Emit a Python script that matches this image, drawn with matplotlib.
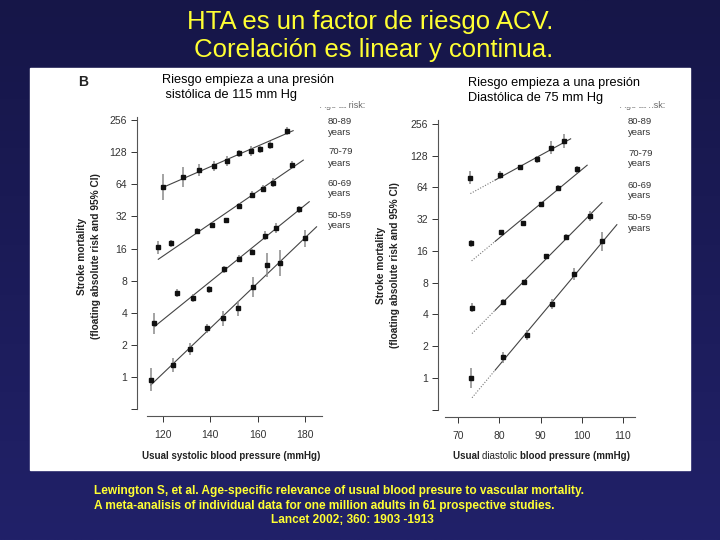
import numpy as np
import matplotlib
matplotlib.use('Agg')
import matplotlib.pyplot as plt
from matplotlib.patches import Rectangle

plt.rcParams['font.family'] = ['Liberation Sans', 'DejaVu Sans']

# --- datos (Lewington 2002, panel B) ---
age_groups = ['80-89', '70-79', '60-69', '50-59']

# sistolica
sys_x = [
    [120, 128.6, 135.3, 141.7, 146.9, 152.3, 157.3, 161.1, 165.4, 172.2],
    [118, 123.4, 134.2, 140.6, 146.5, 152.3, 157.4, 162.4, 166.5, 174.7],
    [116.3, 125.7, 132.8, 139.3, 145.8, 152.2, 157.7, 163.1, 167.9, 177.3],
    [114.8, 124.4, 131.5, 138.6, 145.2, 151.8, 158.0, 164.0, 169.3, 180.0],
]
sys_risk = [
    [60.6, 75, 87, 95, 106, 125, 131, 136, 149, 203],
    [16.4, 17.9, 23.4, 26.5, 29.6, 40.3, 51.4, 58.5, 66.6, 98],
    [3.18, 6.16, 5.53, 6.62, 10.2, 12.9, 14.9, 21, 25.1, 37.3],
    [0.94, 1.29, 1.82, 2.85, 3.55, 4.4, 7.0, 11.2, 11.8, 20],
]
# semi-ancho del IC en log2
sys_ci = [
    [0.41, 0.31, 0.19, 0.16, 0.15, 0.12, 0.15, 0.12, 0.12, 0.12],
    [0.19, 0.12, 0.10, 0.10, 0.08, 0.10, 0.10, 0.10, 0.15, 0.12],
    [0.33, 0.12, 0.12, 0.12, 0.12, 0.12, 0.10, 0.14, 0.16, 0.12],
    [0.36, 0.21, 0.19, 0.15, 0.23, 0.23, 0.31, 0.37, 0.41, 0.26],
]
sys_fit_x = [(120, 175), (118, 179.3), (116.3, 181.8), (114.8, 184.9)]
sys_fit_y = [(60, 204), (12.7, 108), (2.96, 44), (0.84, 25.6)]

# diastolica
dia_x = [
    [73.0, 80.2, 85.0, 89.1, 92.5, 95.6],
    [73.2, 80.5, 85.7, 90.2, 94.2, 98.8],
    [73.4, 80.8, 86.1, 91.4, 96.2, 102.0],
    [73.2, 81.0, 86.8, 92.7, 98.0, 104.9],
]
dia_risk = [
    [79, 84, 99.5, 118, 153, 176],
    [18.9, 24.1, 29.5, 44.6, 63.6, 95],
    [4.64, 5.24, 8.06, 14.3, 21.6, 34.5],
    [1.0, 1.57, 2.55, 5.05, 9.66, 19.8],
]
dia_ci = [
    [0.21, 0.12, 0.08, 0.10, 0.19, 0.23],
    [0.10, 0.06, 0.06, 0.06, 0.08, 0.12],
    [0.15, 0.10, 0.08, 0.08, 0.10, 0.15],
    [0.30, 0.18, 0.15, 0.15, 0.20, 0.30],
]
dia_fit_x = [(73.0, 97.3), (73.3, 101.3), (73.4, 104.9), (73.4, 108.5)]
dia_fit_y = [(56, 185), (12.9, 104), (2.64, 46), (0.65, 28.4)]
dia_dotted_end = 79

y_ticks = [0.5, 1, 2, 4, 8, 16, 32, 64, 128, 256]
y_ticklabels = ['', '1', '2', '4', '8', '16', '32', '64', '128', '256']
sys_ticks = [120, 140, 160, 180]
dia_ticks = [70, 80, 90, 100, 110]

W, H = 720, 540


def fx(px):
    return px / W


def fy(py):
    return 1 - py / H


def box(l, t, r, b):
    return [fx(l), fy(b), (r - l) / W, (b - t) / H]


fig = plt.figure(figsize=(7.2, 5.4), dpi=100)

# fondo degradado azul
bg = fig.add_axes([0, 0, 1, 1])
grad = np.linspace(0, 1, 256)[:, None]
top_c = np.array([22, 22, 72]) / 255
bot_c = np.array([33, 33, 105]) / 255
img = top_c[None, None, :] * (1 - grad[..., None]) + bot_c[None, None, :] * grad[..., None]
bg.imshow(np.repeat(img, 2, axis=1), aspect='auto', extent=[0, 1, 0, 1])
bg.set_xlim(0, 1)
bg.set_ylim(0, 1)
bg.axis('off')
bg.add_patch(Rectangle((fx(30), fy(470)), 660 / W, 402 / H, color='white', zorder=2))

yellow = '#ffff33'
fig.text(fx(370), fy(22), 'HTA es un factor de riesgo ACV.', color=yellow,
         fontsize=18.5, ha='center', va='center')
fig.text(fx(370), fy(50), ' Corelación es linear y continua.', color=yellow,
         fontsize=18.5, ha='center', va='center')

fig.text(fx(94), fy(491), 'Lewington S, et al. Age-specific relevance of usual blood presure to vascular mortality.',
         color=yellow, fontsize=8.6, fontweight='bold', va='center')
fig.text(fx(94), fy(505.5), 'A meta-analisis of individual data for one million adults in 61 prospective studies.',
         color=yellow, fontsize=8.6, fontweight='bold', va='center')
fig.text(fx(352), fy(520), 'Lancet 2002; 360: 1903 -1913',
         color=yellow, fontsize=8.6, fontweight='bold', va='center', ha='center')


def draw_panel(ax, xs, ys, cis, fit_x, fit_y, ticks, xlim, ylim, dotted_end=None):
    for i in range(len(xs)):
        x = np.array(xs[i])
        v = np.array(ys[i])
        h = np.array(cis[i])
        ax.vlines(x, v / 2 ** h, v * 2 ** h, color='#8a8a8a', lw=1.1, zorder=2)
        ax.plot(x, v, 's', color='#111111', ms=3.2, zorder=3)
        (x0, x1), (y0, y1) = fit_x[i], fit_y[i]
        if dotted_end is None:
            ax.plot([x0, x1], [y0, y1], color='#444444', lw=0.8, zorder=1)
        else:
            ym = y0 * (y1 / y0) ** ((dotted_end - x0) / (x1 - x0))
            ax.plot([x0, dotted_end], [y0, ym], color='#777777', lw=0.8, ls=(0, (1, 1.5)), zorder=1)
            ax.plot([dotted_end, x1], [ym, y1], color='#444444', lw=0.8, zorder=1)
    ax.set_yscale('log', base=2)
    ax.set_xlim(*xlim)
    ax.set_ylim(*ylim)
    ax.set_yticks(y_ticks)
    ax.set_yticklabels(y_ticklabels)
    ax.minorticks_off()
    ax.set_xticks(ticks)
    ax.set_xticklabels([str(t) for t in ticks])
    ax.tick_params(labelsize=7.5, colors='#333333', length=4, width=0.7)
    ax.tick_params(axis='y', pad=3)
    ax.tick_params(axis='x', pad=6)
    for s in ['top', 'right']:
        ax.spines[s].set_visible(False)
    for s in ['left', 'bottom']:
        ax.spines[s].set_color('#555555')
        ax.spines[s].set_linewidth(0.8)
    ax.spines['left'].set_bounds(0.5, ylim[1])
    ax.patch.set_alpha(0)


ax1 = fig.add_axes(box(137, 117, 322, 416))
draw_panel(ax1, sys_x, sys_risk, sys_ci, sys_fit_x, sys_fit_y, sys_ticks,
           (109.0, 187.2), (0.431, 274))
ax1.spines['bottom'].set_bounds(113.2, 187.2)

ax2 = fig.add_axes(box(438, 120, 635, 417))
draw_panel(ax2, dia_x, dia_risk, dia_ci, dia_fit_x, dia_fit_y, dia_ticks,
           (65.15, 112.9), (0.427, 279), dotted_end=dia_dotted_end)
ax2.spines['bottom'].set_bounds(66.8, 112.9)

# etiquetas eje y
for xl, yc in [(82, 256), (381, 265)]:
    fig.text(fx(xl), fy(yc), 'Stroke mortality', rotation=90, fontsize=7.3,
             fontweight='bold', ha='center', va='center', color='#222222')
    fig.text(fx(xl + 14), fy(yc), '(floating absolute risk and 95% CI)', rotation=90,
             fontsize=7.3, fontweight='bold', ha='center', va='center', color='#222222')

fig.text(fx(231), fy(456), 'Usual systolic blood pressure (mmHg)', fontsize=7,
         fontweight='bold', ha='center', va='center', color='#222222')
t1 = fig.text(fx(453), fy(456), 'Usual ', fontsize=7, fontweight='bold',
              va='center', color='#222222')
a2 = ax2.annotate('diastolic ', xy=(1, 0.5), xycoords=t1, va='center', ha='left',
                  fontsize=7, color='#222222', annotation_clip=False)
ax2.annotate('blood pressure (mmHg)', xy=(1, 0.5), xycoords=a2, va='center', ha='left',
             fontsize=7, fontweight='bold', color='#222222', annotation_clip=False)

fig.text(fx(78), fy(82), 'B', fontsize=10, fontweight='bold', va='center', color='#222222')

# leyenda de edades
for xl, ys_lab in [(328, [122, 152, 183, 215]), (628, [122, 153, 185, 217])]:
    fig.text(fx(xl - 8), fy(106), 'Age at risk:', fontsize=6.5, color='#666666', va='center')
    for g, yy in zip(age_groups, ys_lab):
        fig.text(fx(xl), fy(yy), g, fontsize=6.8, color='#333333', va='center')
        fig.text(fx(xl), fy(yy + 11), 'years', fontsize=6.8, color='#333333', va='center')

# recuadros blancos de los comentarios
fig.add_artist(Rectangle((fx(155), fy(106)), 190 / W, 36 / H, color='white',
                         transform=fig.transFigure, zorder=5))
fig.add_artist(Rectangle((fx(462), fy(106)), 190 / W, 36 / H, color='white',
                         transform=fig.transFigure, zorder=5))
fig.text(fx(162), fy(80), 'Riesgo empieza a una presión', fontsize=9.2, va='center', zorder=6)
fig.text(fx(162), fy(95), ' sistólica de 115 mm Hg', fontsize=9.2, va='center', zorder=6)
fig.text(fx(468), fy(83), 'Riesgo empieza a una presión', fontsize=9.2, va='center', zorder=6)
fig.text(fx(468), fy(98), 'Diastólica de 75 mm Hg', fontsize=9.2, va='center', zorder=6)

fig.savefig('out.png', dpi=100)
